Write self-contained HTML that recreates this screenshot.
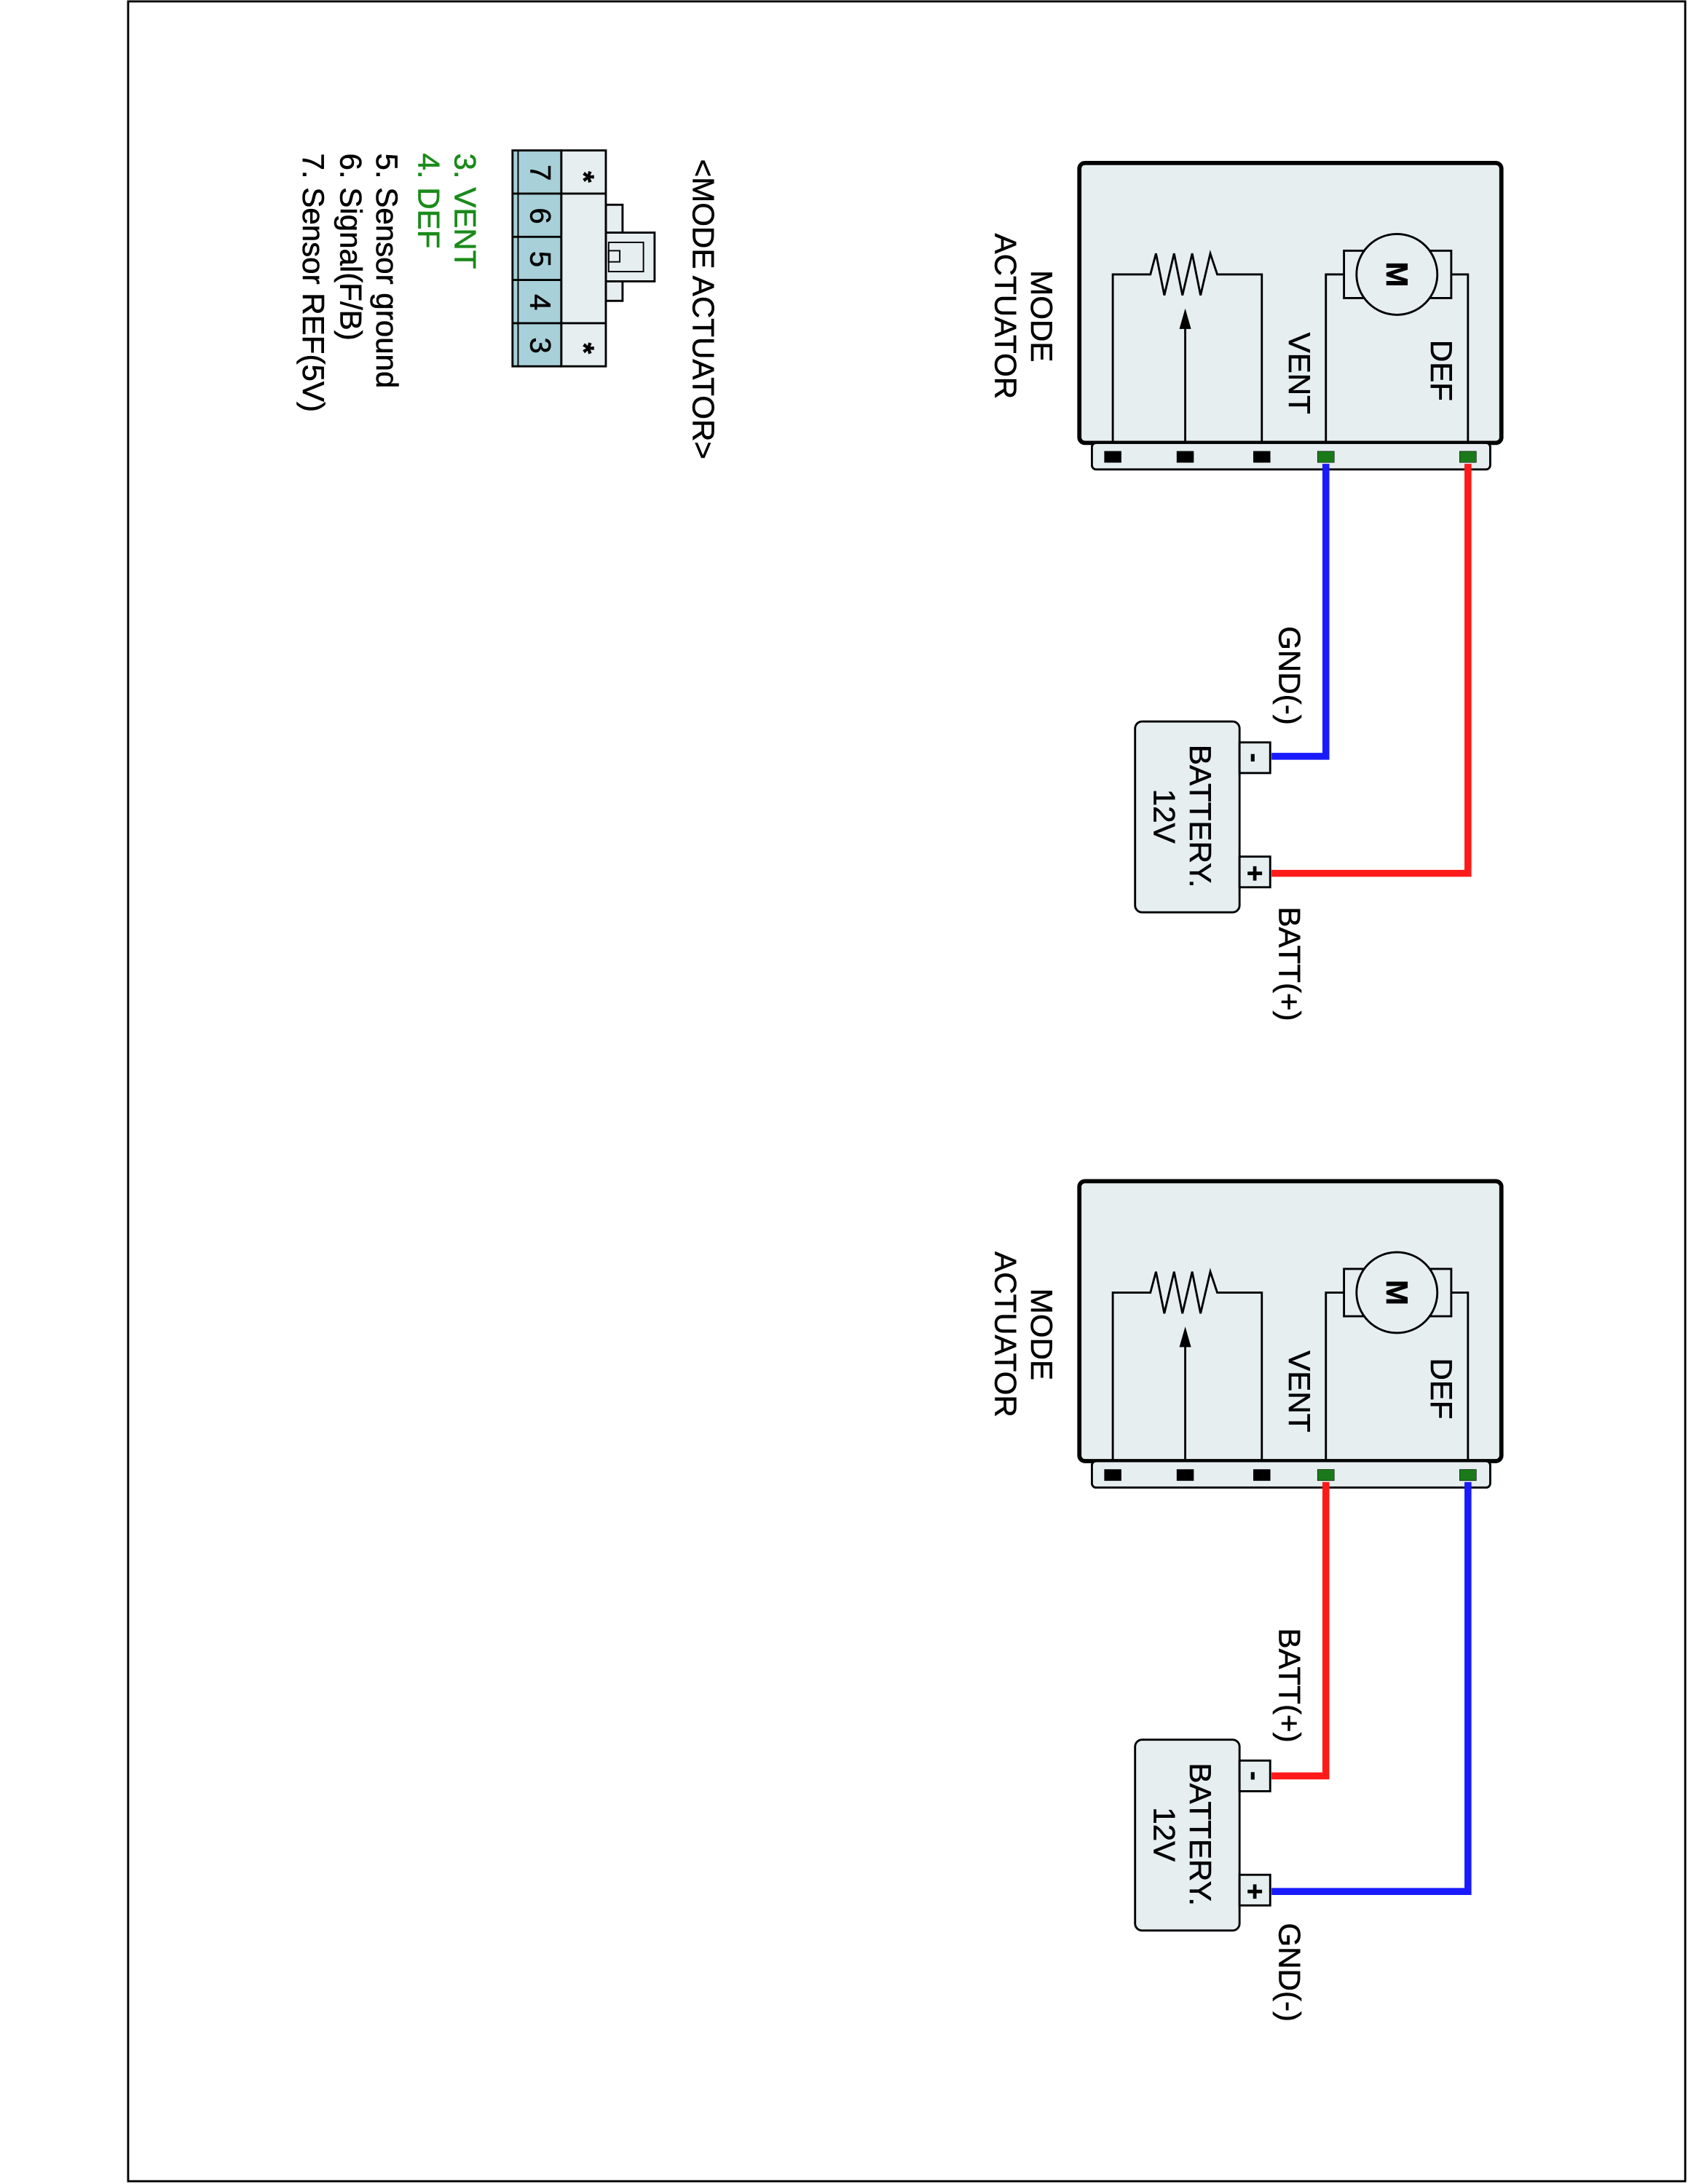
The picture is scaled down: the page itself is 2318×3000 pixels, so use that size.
<!DOCTYPE html>
<html><head><meta charset="utf-8"><style>html,body{margin:0;padding:0;background:#fff}svg{display:block}</style></head>
<body>
<svg width="2318" height="3000" viewBox="0 0 1212 1568" preserveAspectRatio="none" xmlns="http://www.w3.org/2000/svg" font-family="Liberation Sans, Arial, sans-serif">
<rect x="92" y="1" width="1118" height="1565" fill="#fff" stroke="#000" stroke-width="1.5"/>

<defs>
<g id="act">
  <rect x="775" y="117" width="303" height="201" rx="4" fill="#e6eef0" stroke="#000" stroke-width="3"/>
  <rect x="784" y="318" width="286" height="19" rx="3" fill="#e6eef0" stroke="#000" stroke-width="1.5"/>
  <rect x="793" y="324" width="12" height="8" fill="#000"/>
  <rect x="845" y="324" width="12" height="8" fill="#000"/>
  <rect x="900" y="324" width="12" height="8" fill="#000"/>
  <rect x="946" y="324" width="12" height="8" fill="#1a7a1a"/>
  <rect x="1048" y="324" width="12" height="8" fill="#1a7a1a"/>
  <g fill="none" stroke="#000" stroke-width="1.5">
    <polyline points="952,318 952,197 965,197"/>
    <polyline points="1054,318 1054,197 1042,197"/>
    <rect x="965" y="180" width="77" height="34" fill="#e6eef0"/>
    <circle cx="1003" cy="197" r="29" fill="#e6eef0"/>
    <polyline points="799,318 799,197 826,197 830,182 836,212 843,182 849,212 856,182 862,212 869,182 874,197 906,197 906,318"/>
    <line x1="851" y1="318" x2="851" y2="232"/>
  </g>
  <polygon points="851,222 847,236 855,236" fill="#000"/>
  <text transform="translate(1003,197) rotate(90)" text-anchor="middle" dominant-baseline="central" font-size="22" font-weight="bold">M</text>
  <text transform="translate(933,268) rotate(90)" text-anchor="middle" dominant-baseline="central" font-size="22">VENT</text>
  <text transform="translate(1035,266) rotate(90)" text-anchor="middle" dominant-baseline="central" font-size="22">DEF</text>
  <text transform="translate(748,227) rotate(90)" text-anchor="middle" dominant-baseline="central" font-size="22">MODE</text>
  <text transform="translate(722,227) rotate(90)" text-anchor="middle" dominant-baseline="central" font-size="22">ACTUATOR</text>
  <rect x="815" y="518" width="75" height="137" rx="5" fill="#e6eef0" stroke="#000" stroke-width="1.5"/>
  <rect x="890" y="533" width="22" height="22" fill="#e6eef0" stroke="#000" stroke-width="1.5"/>
  <rect x="890" y="615" width="22" height="22" fill="#e6eef0" stroke="#000" stroke-width="1.5"/>
  <text transform="translate(901,544) rotate(90)" text-anchor="middle" dominant-baseline="central" font-size="20" font-weight="bold">-</text>
  <text transform="translate(901,627) rotate(90)" text-anchor="middle" dominant-baseline="central" font-size="20" font-weight="bold">+</text>
  <text transform="translate(862,586) rotate(90)" text-anchor="middle" dominant-baseline="central" font-size="22">BATTERY.</text>
  <text transform="translate(836,586) rotate(90)" text-anchor="middle" dominant-baseline="central" font-size="22">12V</text>
</g>
</defs>

<g stroke="#000" stroke-width="0.3">
<use href="#act"/>
<use href="#act" transform="translate(0,731)"/>
</g>
<g fill="none" stroke-width="5">
  <polyline points="952,333 952,543 913,543" stroke="#1a1aff"/>
  <polyline points="1054,333 1054,627 913,627" stroke="#ff1a1a"/>
  <polyline points="952,1064 952,1275 913,1275" stroke="#ff1a1a"/>
  <polyline points="1054,1064 1054,1358 913,1358" stroke="#1a1aff"/>
</g>
<g font-size="22" text-anchor="middle" dominant-baseline="central" stroke="#000" stroke-width="0.3">
<text transform="translate(926,485) rotate(90)">GND(-)</text>
<text transform="translate(926,692) rotate(90)">BATT(+)</text>
<text transform="translate(926,1210) rotate(90)">BATT(+)</text>
<text transform="translate(926,1416) rotate(90)">GND(-)</text>
<text transform="translate(505,222) rotate(90)">&lt;MODE ACTUATOR&gt;</text>
</g>

<!-- connector -->
<g stroke="#000" stroke-width="1.5">
  <rect x="435" y="147" width="12" height="69" fill="#e6eef0"/>
  <rect x="435" y="167" width="35" height="35" fill="#e6eef0"/>
  <rect x="437" y="174" width="25" height="21" fill="none" stroke-width="1"/>
  <rect x="437" y="180" width="8" height="8" fill="none" stroke-width="1"/>
  <rect x="403" y="108" width="32" height="155" fill="#e6eef0"/>
  <line x1="403" y1="139" x2="435" y2="139"/>
  <line x1="403" y1="232" x2="435" y2="232"/>
  <rect x="368" y="108" width="35" height="155" fill="#a8d0d8"/>
  <line x1="368" y1="139" x2="403" y2="139"/>
  <line x1="368" y1="170" x2="403" y2="170"/>
  <line x1="368" y1="201" x2="403" y2="201"/>
  <line x1="368" y1="232" x2="403" y2="232"/>
  <line x1="372" y1="108" x2="372" y2="263" stroke-width="1"/>
</g>
<g font-size="21" text-anchor="middle" dominant-baseline="central" stroke="#000" stroke-width="0.3">
  <text transform="translate(388,124) rotate(90)">7</text>
  <text transform="translate(388,155) rotate(90)">6</text>
  <text transform="translate(388,186) rotate(90)">5</text>
  <text transform="translate(388,217) rotate(90)">4</text>
  <text transform="translate(388,248) rotate(90)">3</text>
  <text transform="translate(419,127) rotate(90)" font-weight="bold">*</text>
  <text transform="translate(419,250) rotate(90)" font-weight="bold">*</text>
</g>
<g font-size="22" dominant-baseline="central" stroke-width="0.3">
  <text transform="translate(334,110) rotate(90)" fill="#1a8a1a" stroke="#1a8a1a">3. VENT</text>
  <text transform="translate(308,110) rotate(90)" fill="#1a8a1a" stroke="#1a8a1a">4. DEF</text>
  <text transform="translate(278,110) rotate(90)" stroke="#000">5. Sensor ground</text>
  <text transform="translate(252,110) rotate(90)" stroke="#000">6. Signal(F/B)</text>
  <text transform="translate(225,110) rotate(90)" stroke="#000">7. Sensor REF(5V)</text>
</g>
</svg>
</body></html>
